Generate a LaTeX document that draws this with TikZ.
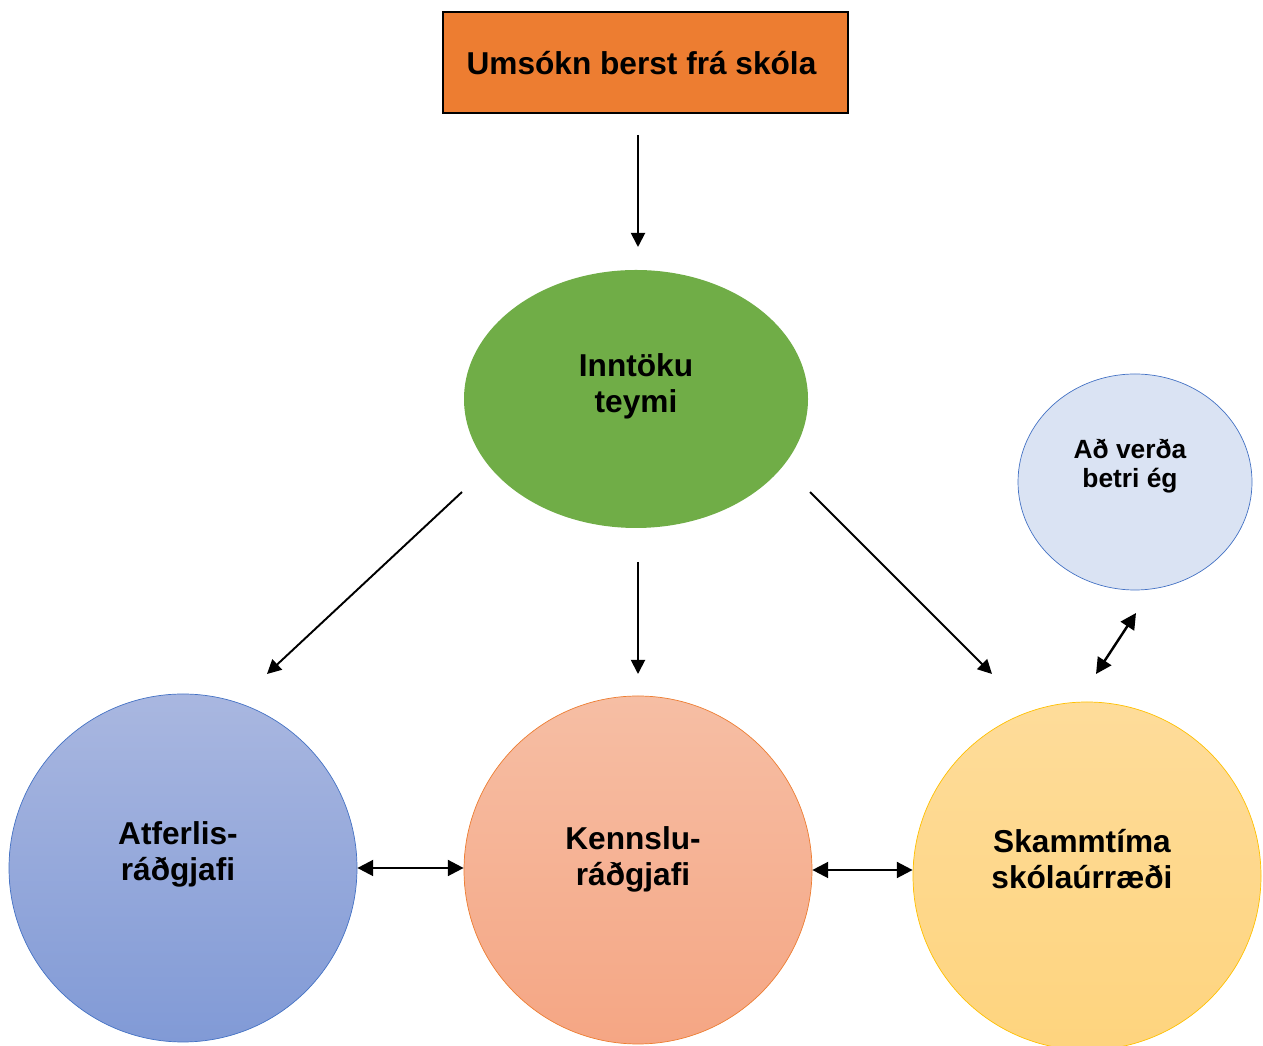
\documentclass[tikz,border=0pt]{standalone}
\usepackage{fontspec}
\setmainfont{Liberation Sans}
\usetikzlibrary{arrows.meta,shapes.geometric}
\definecolor{boxorange}{HTML}{ED7D31}
\definecolor{teamgreen}{HTML}{70AD47}
\definecolor{edgeblue}{HTML}{4472C4}
\definecolor{edgegold}{HTML}{FFC000}
\definecolor{lightblue}{HTML}{DAE3F3}
\definecolor{bluetop}{HTML}{A9B7E0}
\definecolor{bluebot}{HTML}{819AD6}
\definecolor{salmontop}{HTML}{F6BEA4}
\definecolor{salmonbot}{HTML}{F5A684}
\definecolor{goldtop}{HTML}{FEDC9A}
\definecolor{goldbot}{HTML}{FED47E}

\begin{document}
\begin{tikzpicture}[>={Triangle[length=8pt,width=8pt]},
	txt/.style={align=center, font=\bfseries\fontsize{18}{20.5}\selectfont},
	big/.style={circle, minimum size=6.96cm, inner sep=0pt, thin},
	arr/.style={->, line width=1.1pt},
	twoway/.style={<->, line width=1.4pt, >={Triangle[length=9pt,width=9pt]}}]
	\useasboundingbox (0,0) rectangle (25.26,20.9);
	\node at (12.91,19.65) [rectangle, draw=black, fill=boxorange, thick, minimum width=8.1cm, minimum height=2.02cm] (umsokn) {};
	\node at (12.83,19.63) [txt] {Umsókn berst frá skóla};
	\node at (12.72,12.92) [ellipse, fill=teamgreen, minimum width=6.88cm, minimum height=5.16cm, inner sep=0pt] (teymi) {};
	\node at (12.72,13.18) [txt] {Inntöku\\teymi};
	\node at (3.66,3.54) [big, draw=edgeblue, top color=bluetop, bottom color=bluebot] (atferli) {};
	\node at (3.56,3.82) [txt] {Atferlis-\\ráðgjafi};
	\node at (12.76,3.5) [big, draw=boxorange, top color=salmontop, bottom color=salmonbot] (kennsla) {};
	\node at (12.66,3.72) [txt] {Kennslu-\\ráðgjafi};
	\node at (21.74,3.38) [big, draw=edgegold, top color=goldtop, bottom color=goldbot] (skammt) {};
	\node at (21.64,3.72) [txt] {Skammtíma\\skólaúrræði};
	\node at (22.7,11.26) [ellipse, draw=edgeblue, fill=lightblue, thin, minimum width=4.68cm, minimum height=4.32cm, inner sep=0pt] (betri) {};
	\node at (22.6,11.58) [txt, font=\bfseries\fontsize{15}{16.5}\selectfont] {Að verða\\betri ég};

	\coordinate (a1) at (12.76,18.2);
	\coordinate (a2) at (12.76,15.96);
	\coordinate (b1) at (9.24,11.06);
	\coordinate (b2) at (5.34,7.42);
	\coordinate (c1) at (12.76,9.66);
	\coordinate (c2) at (12.76,7.42);
	\coordinate (d1) at (16.2,11.06);
	\coordinate (d2) at (19.84,7.42);
	\coordinate (e1) at (21.92,7.42);
	\coordinate (e2) at (22.72,8.64);

	\draw [arr] (a1) -- (a2);
	\draw [arr] (b1) -- (b2);
	\draw [arr] (c1) -- (c2);
	\draw [arr] (d1) -- (d2);
	\draw [twoway] (e1) -- (e2);
	\draw [twoway] (atferli.east) -- (atferli.east -| kennsla.west);
	\draw [twoway] (kennsla.east) -- (kennsla.east -| skammt.west);
\end{tikzpicture}
\end{document}
